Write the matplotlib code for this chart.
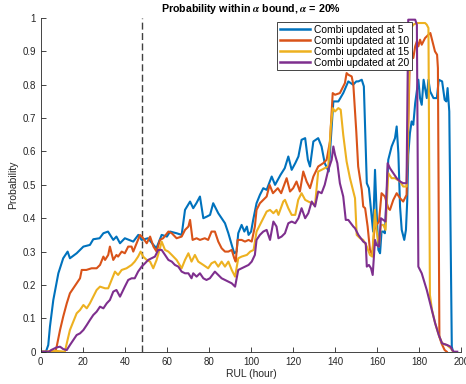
import numpy as np
import matplotlib
matplotlib.use("Agg")
import matplotlib.pyplot as plt

plt.rcParams["font.family"] = ["Liberation Sans", "DejaVu Sans"]
plt.rcParams["mathtext.fontset"] = "stix"

labels = [
    "Combi updated at 5",
    "Combi updated at 10",
    "Combi updated at 15",
    "Combi updated at 20",
]
colors = ["#0072BD", "#D95319", "#EDB120", "#7E2F8E"]

# Combi updated at 5
rul_5 = [0, 2.5, 3.6, 4.4, 6, 8.4, 10.7, 12.8, 13.9, 17.1, 20.3, 23.4, 25, 28, 29.8,
         32, 34.5, 36, 37.7, 40, 42, 44, 46.4, 48, 51, 53.6, 55, 57.5, 60, 61.5,
         64.6, 67, 68.6, 71, 72.5, 74, 75.7, 77.3, 79, 80.5, 82, 84.4, 86, 87.6,
         89.2, 90.8, 92, 93.1, 93.9, 95.5, 96.8, 98, 98.8, 100, 101, 102.6, 104.2,
         105.8, 107.4, 109.8, 111.4, 114, 116, 117.7, 119.3, 121, 122.5, 124,
         125.7, 127, 128, 129.6, 131.9, 133.5, 135, 136.9, 138.3, 139.1, 141.5,
         143.8, 146.2, 148.5, 150, 151, 152.6, 153.6, 155, 156, 157.3, 158, 158.9,
         159.6, 160.5, 161.3, 162, 162.8, 163.6, 165.2, 166.8, 168.4, 169.2, 170,
         170.8, 171.6, 172.8, 173.6, 174.2, 174.7, 175.5, 176.3, 177.1, 178, 179.5,
         180.3, 181.1, 182, 182.7, 183.5, 184.3, 185.1, 186.7, 188.3, 189.2, 190.8,
         192, 192.8, 193.4, 194.2, 195.4, 196]
p_5 = [0, 0, 0.02, 0.075, 0.155, 0.235, 0.28, 0.30, 0.28, 0.295, 0.315, 0.32, 0.337,
       0.34, 0.355, 0.36, 0.335, 0.345, 0.325, 0.34, 0.335, 0.33, 0.35, 0.335,
       0.34, 0.32, 0.31, 0.35, 0.345, 0.36, 0.355, 0.35, 0.425, 0.45, 0.43,
       0.445, 0.465, 0.40, 0.405, 0.41, 0.445, 0.415, 0.40, 0.385, 0.355, 0.32,
       0.295, 0.30, 0.355, 0.38, 0.36, 0.375, 0.35, 0.36, 0.395, 0.445, 0.47,
       0.49, 0.485, 0.525, 0.50, 0.53, 0.55, 0.585, 0.545, 0.565, 0.585, 0.635,
       0.64, 0.575, 0.555, 0.63, 0.64, 0.615, 0.565, 0.54, 0.675, 0.75, 0.75,
       0.775, 0.81, 0.80, 0.81, 0.81, 0.815, 0.795, 0.505, 0.49, 0.405, 0.36,
       0.545, 0.43, 0.305, 0.295, 0.36, 0.36, 0.355, 0.575, 0.615, 0.64, 0.675,
       0.595, 0.435, 0.365, 0.335, 0.365, 0.45, 0.59, 0.655, 0.69, 0.68, 0.745,
       0.815, 0.76, 0.74, 0.815, 0.79, 0.76, 0.815, 0.78, 0.76, 0.76, 0.815,
       0.81, 0.755, 0.75, 0.79, 0.72, 0.015, 0]

# Combi updated at 10
rul_10 = [0, 7, 7.6, 9.2, 10.7, 12.4, 13.9, 15.5, 17.1, 18.7, 19.5, 21.7, 24.2, 26.6,
          28.2, 29.8, 30.6, 32.1, 32.9, 34.5, 36, 36.8, 38.5, 40, 41.6, 43.2, 44,
          45.6, 47.2, 48.7, 50.4, 52, 53.6, 55.1, 56.7, 58.2, 60.7, 62.3, 64.6, 67,
          68.6, 70.2, 71, 72.2, 74.1, 75.7, 78, 79.6, 81.2, 82.8, 84.4, 86, 87.6,
          89.2, 90.8, 92, 92.7, 93.6, 95.5, 97.1, 98.8, 100.3, 101.8, 102.6, 104.2,
          105.8, 107.4, 108.8, 110.4, 112.7, 114.3, 116.9, 118.5, 120, 121.6, 123.2,
          124.8, 126.4, 128, 129.6, 131.9, 134.3, 135.9, 137.5, 138.8, 139.9, 142.2,
          144.6, 145.4, 146.2, 147.8, 148.6, 149.4, 150, 150.9, 152.6, 153.3, 154.2,
          155.4, 156.5, 157.6, 158.6, 159.6, 160.8, 162, 163.6, 165.2, 166, 167.6,
          169.2, 170.8, 172.3, 173.9, 174.7, 175.5, 176.3, 177.1, 178, 178.8, 179.5,
          180.3, 181.1, 182.7, 184.3, 185.2, 186.8, 187.4, 188.4, 188.8, 189.5,
          190.5, 192, 193]
p_10 = [0, 0, 0.015, 0.065, 0.105, 0.145, 0.175, 0.19, 0.205, 0.22, 0.245, 0.245,
        0.25, 0.25, 0.26, 0.285, 0.275, 0.29, 0.315, 0.275, 0.29, 0.285, 0.30,
        0.295, 0.315, 0.315, 0.30, 0.325, 0.35, 0.34, 0.325, 0.345, 0.315, 0.30,
        0.335, 0.34, 0.36, 0.355, 0.34, 0.345, 0.365, 0.375, 0.395, 0.335, 0.34,
        0.335, 0.34, 0.335, 0.36, 0.36, 0.33, 0.31, 0.30, 0.30, 0.305, 0.28, 0.27,
        0.335, 0.335, 0.33, 0.335, 0.33, 0.375, 0.425, 0.445, 0.455, 0.465, 0.50,
        0.475, 0.49, 0.475, 0.52, 0.48, 0.49, 0.51, 0.48, 0.54, 0.51, 0.49, 0.525,
        0.555, 0.565, 0.575, 0.63, 0.775, 0.77, 0.775, 0.805, 0.835, 0.83, 0.825,
        0.80, 0.72, 0.66, 0.555, 0.485, 0.435, 0.43, 0.375, 0.305, 0.29, 0.365,
        0.38, 0.39, 0.475, 0.465, 0.43, 0.425, 0.455, 0.475, 0.46, 0.45, 0.47,
        0.675, 0.895, 0.90, 0.88, 0.915, 0.93, 0.915, 0.935, 0.92, 0.94, 0.95,
        0.955, 0.915, 0.90, 0.89, 0.85, 0.045, 0.025, 0.005, 0]

# Combi updated at 15
rul_15 = [0, 3, 5, 8, 11.5, 12.4, 13.9, 15.5, 17.1, 18.7, 20.3, 21.9, 23.4, 25, 26.6,
          28.2, 30.6, 32.1, 33.7, 35.3, 36.8, 38.5, 40.8, 43.2, 44.7, 46.3, 47.5,
          48.7, 50.4, 52, 53.5, 55.1, 56.7, 57.5, 59.1, 60.7, 62.3, 64.6, 67, 68.6,
          70.2, 71.7, 73.3, 74.9, 77.3, 79.6, 81.2, 82.8, 84.4, 86, 87.6, 89.2, 90.8,
          92.4, 93.9, 95.5, 98, 99.6, 101.2, 102.6, 104.2, 105.8, 107.4, 109, 110.6,
          112.1, 113, 115.3, 116.1, 117.7, 119.3, 121, 122.4, 124, 125.7, 127.2,
          128.8, 130.4, 131.9, 133.5, 135, 136.7, 137.9, 138.8, 139.9, 141.5, 142.6,
          143.8, 145.4, 147, 148.6, 149.4, 150.2, 151.8, 153.3, 155, 156.5, 157.6,
          158.9, 159.6, 160.8, 161.7, 162.8, 163.9, 165.2, 166.8, 168.4, 170.8,
          172.3, 173.9, 174.7, 175.5, 177.1, 178.8, 181.1, 182.7, 183.5, 184.3, 185,
          186, 187.5, 189.2, 190.8, 193, 195, 196]
p_15 = [0, 0, 0.003, 0.002, 0, 0.025, 0.065, 0.09, 0.115, 0.125, 0.14, 0.13, 0.145,
        0.165, 0.185, 0.195, 0.19, 0.19, 0.215, 0.24, 0.23, 0.245, 0.25, 0.26,
        0.27, 0.285, 0.30, 0.285, 0.275, 0.27, 0.25, 0.275, 0.31, 0.33, 0.305,
        0.30, 0.29, 0.275, 0.25, 0.275, 0.295, 0.27, 0.29, 0.27, 0.26, 0.25, 0.265,
        0.27, 0.255, 0.27, 0.255, 0.27, 0.245, 0.225, 0.28, 0.285, 0.29, 0.30,
        0.305, 0.36, 0.38, 0.40, 0.42, 0.425, 0.415, 0.425, 0.41, 0.45, 0.455,
        0.43, 0.41, 0.41, 0.455, 0.475, 0.455, 0.45, 0.445, 0.44, 0.54, 0.545,
        0.55, 0.555, 0.675, 0.73, 0.72, 0.73, 0.725, 0.65, 0.57, 0.52, 0.48, 0.46,
        0.35, 0.34, 0.335, 0.315, 0.29, 0.285, 0.425, 0.365, 0.315, 0.38, 0.38,
        0.365, 0.535, 0.52, 0.52, 0.51, 0.495, 0.495, 0.70, 0.965, 0.98, 0.985,
        0.985, 0.985, 0.98, 0.97, 0.17, 0.125, 0.085, 0.05, 0.025, 0.02, 0.01, 0]

# Combi updated at 20
rul_20 = [0, 4, 5, 7.6, 9.2, 10.7, 12.4, 13.9, 15.5, 17.1, 18.7, 20.3, 21.9, 23.4, 25,
          26.6, 28.2, 29.8, 31.4, 32.9, 34.5, 36, 37.7, 40, 41.6, 43.2, 44.7, 46.3,
          48, 49.6, 51.1, 52.7, 54.3, 55.9, 57.5, 59.1, 60.7, 62.3, 63.8, 65.4, 67,
          68.6, 70.2, 71.7, 72.5, 74.1, 75.7, 77.3, 78.8, 80.4, 82.8, 84.4, 86,
          87.6, 89.2, 90.8, 92.4, 93.9, 95.5, 97.1, 98.8, 100.3, 101.8, 102.6, 104.2,
          105.8, 107.4, 109, 110.6, 112.1, 113, 114.5, 116.1, 117.7, 119.3, 121,
          122.5, 124, 125.7, 127.2, 128.8, 130.4, 131.9, 133.5, 135, 136.7, 138.3,
          139.1, 139.9, 141, 142.2, 143.8, 145, 146.2, 148.6, 149.4, 151, 153.3,
          154.5, 155, 156, 157, 157.8, 158.9, 159.6, 160.8, 161.7, 162.8, 163.9,
          164.9, 166, 167.6, 169.2, 170.8, 172.3, 173.9, 174.7, 178, 178.8, 179.5,
          181.1, 183.5, 185.9, 187.5, 189.2, 190.8, 193.2, 194.8, 195.6, 196.4, 198]
p_20 = [0, 0, 0.005, 0.013, 0.015, 0.008, 0.005, 0.02, 0.035, 0.05, 0.055, 0.065,
        0.08, 0.095, 0.11, 0.12, 0.135, 0.13, 0.145, 0.155, 0.18, 0.185, 0.165,
        0.195, 0.215, 0.22, 0.22, 0.24, 0.255, 0.265, 0.275, 0.28, 0.285, 0.305,
        0.305, 0.29, 0.275, 0.27, 0.26, 0.255, 0.24, 0.235, 0.235, 0.22, 0.235,
        0.225, 0.235, 0.22, 0.215, 0.22, 0.24, 0.23, 0.22, 0.215, 0.21, 0.205,
        0.195, 0.245, 0.25, 0.255, 0.26, 0.27, 0.29, 0.335, 0.35, 0.36, 0.365,
        0.335, 0.39, 0.375, 0.34, 0.345, 0.355, 0.385, 0.39, 0.385, 0.40, 0.43,
        0.40, 0.415, 0.45, 0.435, 0.48, 0.475, 0.50, 0.545, 0.575, 0.615, 0.59,
        0.565, 0.505, 0.465, 0.395, 0.395, 0.375, 0.37, 0.35, 0.33, 0.325, 0.255,
        0.26, 0.25, 0.23, 0.335, 0.32, 0.315, 0.40, 0.395, 0.39, 0.565, 0.55,
        0.535, 0.52, 0.51, 0.505, 0.505, 0.995, 0.995, 0.98, 0.255, 0.235, 0.185,
        0.125, 0.085, 0.05, 0.025, 0.02, 0.015, 0.005, 0, 0]

update_rul = 48

series = [(rul_5, p_5), (rul_10, p_10), (rul_15, p_15), (rul_20, p_20)]

fig = plt.figure(figsize=(4.66, 3.84), dpi=100)
ax = fig.add_axes([0.0873, 0.0841, 0.903, 0.869])

ax.plot([update_rul, update_rul], [0, 1], "--", color="#404040", lw=1.0,
        dashes=(5, 2.5))

for (x, y), c, lab in zip(series, colors, labels):
    ax.plot(x, y, color=c, lw=1.5, label=lab)

ax.set_xlim(0, 200)
ax.set_ylim(0, 1)
ax.set_xticks(np.arange(0, 201, 20))
ax.set_yticks(np.arange(0, 1.01, 0.1))
ax.set_yticklabels(["0", "0.1", "0.2", "0.3", "0.4", "0.5", "0.6", "0.7", "0.8", "0.9", "1"])
ax.tick_params(direction="in", length=3.5, width=0.6, labelsize=7, colors="#262626")
for s in ["top", "right"]:
    ax.spines[s].set_visible(False)
for s in ["left", "bottom"]:
    ax.spines[s].set_linewidth(0.6)
    ax.spines[s].set_color("#262626")

ax.set_xlabel("RUL (hour)", fontsize=7.5, color="#262626", labelpad=2)
ax.set_ylabel("Probability", fontsize=7.5, color="#262626", labelpad=3)
ax.set_title(r"Probability within $\boldsymbol{\alpha}$ bound, $\boldsymbol{\alpha}$ = 20%",
             fontsize=7.7, fontweight="bold", pad=4)

leg = ax.legend(loc="upper left", bbox_to_anchor=(0.555, 0.997), fontsize=7.4,
                frameon=True, fancybox=False, framealpha=1, edgecolor="#262626",
                handlelength=2.9, borderpad=0.25, labelspacing=0.1,
                handletextpad=0.4, borderaxespad=0.3)
leg.get_frame().set_linewidth(0.6)
for line in leg.get_lines():
    line.set_linewidth(1.8)

fig.savefig("out.png", dpi=100)
